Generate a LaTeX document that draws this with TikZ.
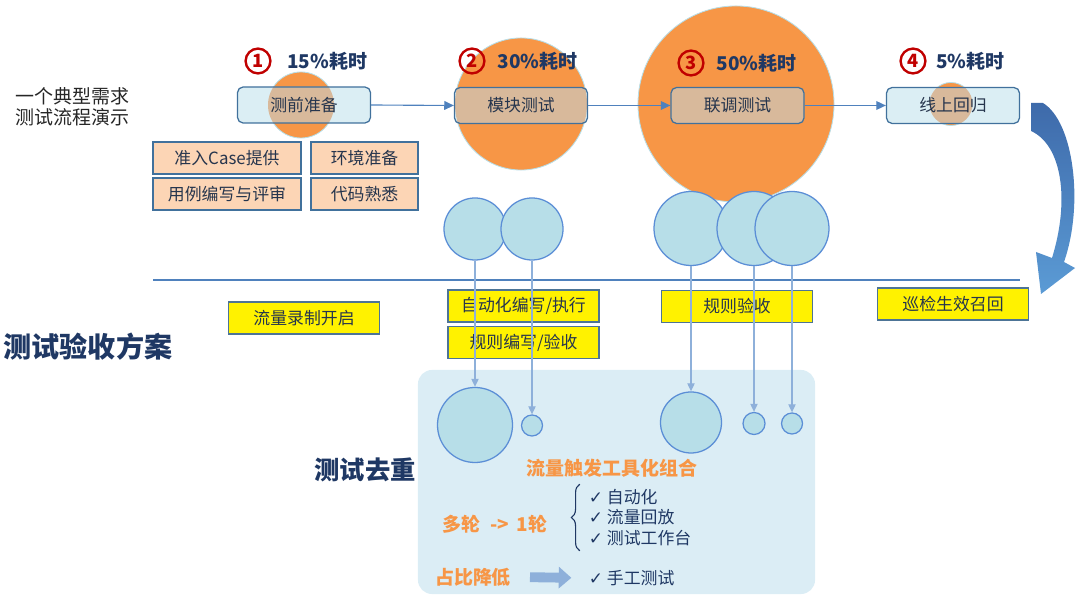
\documentclass[tikz,border=0pt]{standalone}
\usepackage{fontspec}
\setmainfont{Noto Sans CJK SC}
\newfontfamily\symfont{DejaVu Sans}
\usepackage{tikz}
\usetikzlibrary{arrows.meta,positioning,decorations.pathreplacing}
\definecolor{ccorange}{HTML}{F79646}
\definecolor{cctan}{HTML}{D8B99B}
\definecolor{ccstage}{HTML}{DBEEF4}
\definecolor{ccedge}{HTML}{41719C}
\definecolor{ccpeach}{HTML}{FCD5B5}
\definecolor{ccdot}{HTML}{B7DEE8}
\definecolor{ccdotline}{HTML}{5B8ED6}
\definecolor{ccthin}{HTML}{8EB0DA}
\definecolor{ccnavy}{HTML}{1F3864}
\definecolor{ccred}{HTML}{C00000}
\definecolor{ccpanel}{HTML}{DBEDF5}
\definecolor{cctext}{HTML}{26354D}
\definecolor{ccrule}{HTML}{4F81BD}
\definecolor{cctop}{HTML}{3E6AAA}
\definecolor{ccbot}{HTML}{5B9BD5}

\begin{document}
\begin{tikzpicture}[
  x=0.025cm,y=-0.025cm,
  font=\fontsize{12}{14}\selectfont,
  stage/.style={draw=ccedge,line width=0.9pt,rounded corners=4pt,fill=ccstage,minimum width=3.325cm,minimum height=0.9cm,inner sep=0pt,text=cctext},
  prep/.style={draw=ccedge,line width=0.9pt,fill=ccpeach,minimum height=0.8cm,inner sep=0pt,text=cctext},
  tag/.style={draw=ccedge!80!gray,line width=0.9pt,fill=yellow,minimum width=3.775cm,minimum height=0.8cm,inner sep=0pt,text=cctext},
  blob/.style={circle,fill=ccorange,draw=ccdot,line width=0.6pt,inner sep=0pt},
  dot/.style={circle,fill=ccdot,draw=ccdotline,line width=0.9pt,inner sep=0pt},
  num/.style={circle,draw=ccred,line width=1.7pt,minimum size=0.62cm,inner sep=0pt,text=ccred,font=\fontsize{13}{13}\selectfont\bfseries},
  pct/.style={inner sep=0pt,text=ccnavy,font=\fontsize{13.5}{14}\selectfont\bfseries},
  hint/.style={text=ccorange,font=\fontsize{13.5}{14}\selectfont\bfseries},
  panelbox/.style={fill=ccpanel,rounded corners=10pt,minimum width=9.925cm,minimum height=5.6cm},
  ar/.style={-{Triangle[length=2.4mm,width=2.2mm]},ccrule,line width=0.8pt},
  drop/.style={-{Triangle[length=2mm,width=1.8mm]},ccthin,line width=0.9pt},
  fat/.style={-{Triangle[length=9pt,width=15pt]},ccthin,line width=7pt,shorten <=10pt,shorten >=9pt}]
\useasboundingbox (0,0) rectangle (1080,615);

\node[anchor=west,align=left,font=\fontsize{13.5}{15}\selectfont,text=black!85] (intro) at (11,107) {一个典型需求\\测试流程演示};

% time share of each stage
\node[blob,minimum size=1.65cm] (o1) at (301,105) {};
\node[blob,minimum size=3.3cm] (o2) at (521,104) {};
\node[blob,minimum size=4.9cm] (o3) at (736,104) {};
\node[blob,minimum size=1.075cm] (o4) at (951,104) {};

\node[stage,path picture={\fill[cctan] (o1.center) circle (33);}] (s1) at (304,105) {测前准备};
\node[stage,path picture={\fill[cctan] (o2.center) circle (66);}] (s2) at (521,105.5) {模块测试};
\node[stage,path picture={\fill[cctan] (o3.center) circle (98);}] (s3) at (737.5,105.5) {联调测试};
\node[stage,path picture={\fill[cctan] (o4.center) circle (21.5);}] (s4) at (953,105.5) {线上回归};
\draw[ar] (s1.east) -- (s2.west);
\draw[ar] (s2.east) -- (s3.west);
\draw[ar] (s3.east) -- (s4.west);

\node[num] (n1) at (258,61) {1};
\node[num] (n2) at (472,61) {2};
\node[num] (n3) at (691,63) {3};
\node[num] (n4) at (913,61) {4};
\node[pct,right=11pt of n1] (h1) {15\%耗时};
\node[pct,right=8.5pt of n2] (h2) {30\%耗时};
\node[pct,right=8.5pt of n3] (h3) {50\%耗时};
\node[pct,right=6.5pt of n4] (h4) {5\%耗时};

\node[prep,minimum width=3.7cm] (p1) at (227,158) {准入Case提供};
\node[prep,minimum width=2.675cm] (p2) at (364.5,158) {环境准备};
\node[prep,minimum width=3.7cm] (p3) at (227,194) {用例编写与评审};
\node[prep,minimum width=2.675cm] (p4) at (364.5,194) {代码熟悉};

% cases per stage
\node[dot,minimum size=1.55cm] (c1) at (475,229) {};
\node[dot,minimum size=1.55cm] (c2) at (532,229) {};
\node[dot,minimum size=1.85cm] (c3) at (691,228.5) {};
\node[dot,minimum size=1.85cm] (c4) at (754,228.5) {};
\node[dot,minimum size=1.85cm] (c5) at (792,228.5) {};

\draw[ccrule,line width=1pt] (153,280) -- (1020,280);

\node[tag] (t1) at (304,318) {流量录制开启};
\node[tag] (t2) at (523.5,306) {自动化编写/执行};
\node[tag] (t3) at (523.5,342.5) {规则编写/验收};
\node[tag] (t4) at (737,306.5) {规则验收};
\node[tag] (t5) at (953,304) {巡检生效召回};

\node[text=ccnavy,font=\fontsize{20}{22}\selectfont\bfseries] (plan) at (88,347) {测试验收方案};

% dedup area
\node[panelbox] (dedup) at (616.5,482) {};
\node[dot,minimum size=1.875cm] (l1) at (475,425) {};
\node[dot,minimum size=0.525cm] (l2) at (532,425.5) {};
\node[dot,minimum size=1.525cm] (l3) at (691,422.5) {};
\node[dot,minimum size=0.55cm] (l4) at (754,423.5) {};
\node[dot,minimum size=0.525cm] (l5) at (792,423.5) {};
\draw[drop] (c1.south) -- (l1.north);
\draw[drop] (c2.south) -- (l2.north);
\draw[drop] (c3.south) -- (l3.north);
\draw[drop] (c4.south) -- (l4.north);
\draw[drop] (c5.south) -- (l5.north);

\node[text=ccnavy,font=\fontsize{18}{20}\selectfont\bfseries] (dedupname) at (365,470) {测试去重};
\node[hint] (combo) at (612,468) {流量触发工具化组合};
\node[hint] (rounds) at (495,524) {多轮\hspace{0.5em}->\hspace{0.4em}1轮};
\node[anchor=west,align=left,text=ccnavy,font=\fontsize{12}{14.6}\selectfont] (tools) at (584,517.5) {{\symfont ✓}\ 自动化\\{\symfont ✓}\ 流量回放\\{\symfont ✓}\ 测试工作台};
\draw[ccnavy,line width=0.8pt,decorate,decoration={brace,amplitude=6pt}] ([xshift=-3pt]tools.south west) -- ([xshift=-3pt]tools.north west);
\node[hint] (low) at (473,577) {占比降低};
\node[anchor=west,text=ccnavy] (manual) at (584,578) {{\symfont ✓}\ 手工测试};
\draw[fat] (low.east) -- (manual.west);

% loop back from online regression
\shade[top color=cctop,bottom color=ccbot]
  (1031,103) -- (1043,103) .. controls (1074,122) and (1084,205) .. (1064,262)
  -- (1075,268) -- (1041,294) -- (1036,252) -- (1052,258)
  .. controls (1070,200) and (1062,145) .. (1031,131) -- cycle;
\end{tikzpicture}
\end{document}
